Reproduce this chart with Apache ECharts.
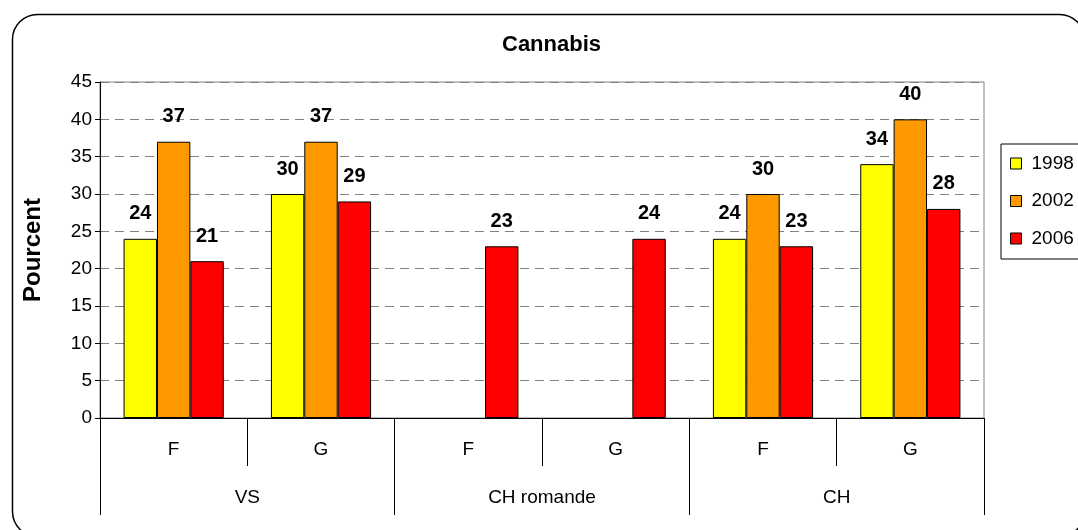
<!DOCTYPE html>
<html>
<head>
<meta charset="utf-8">
<script src="https://cdn.jsdelivr.net/npm/echarts@6/dist/echarts.min.js"></script>
<style>
html,body{margin:0;padding:0;background:#fff;}
#chart{width:1078px;height:530px;}
</style>
</head>
<body>
<div id="chart"></div>
<script>
const subCategories = ['F', 'G', 'F', 'G', 'F', 'G'];
const groupCategories = ['VS', 'CH romande', 'CH'];
const seriesNames = ['1998', '2002', '2006'];
const values1998 = [24, 30, null, null, 24, 34];
const values2002 = [37, 37, null, null, 30, 40];
const values2006 = [21, 29, 23, 24, 23, 28];
const colors = ['#FFFF00', '#FF9900', '#FF0000'];
const yTicks = { min: 0, max: 45, interval: 5 };

const FONT = "'Liberation Sans', Arial, sans-serif";
const chart = echarts.init(document.getElementById('chart'), null, { renderer: 'canvas' });

const allValues = [values1998, values2002, values2006];
const series = seriesNames.map((name, i) => ({
  name: name,
  type: 'bar',
  data: allValues[i],
  barGap: 0,
  barCategoryGap: '32%',
  itemStyle: { color: colors[i], borderColor: '#000', borderWidth: 1 },
  label: {
    show: true,
    position: 'top',
    distance: 15,
    color: '#000',
    fontWeight: 'bold',
    fontSize: 20,
    fontFamily: FONT
  }
}));

chart.setOption({
  animation: false,
  textStyle: { fontFamily: FONT },
  title: {
    text: 'Cannabis',
    left: 497,
    top: 29,
    textStyle: { fontSize: 22, fontWeight: 'bold', color: '#000', fontFamily: FONT }
  },
  legend: {
    orient: 'vertical',
    left: 1001,
    top: 144,
    data: seriesNames,
    icon: 'rect',
    itemWidth: 11,
    itemHeight: 11,
    itemGap: 18.5,
    borderColor: '#000',
    borderWidth: 1,
    padding: [10, 20, 11, 9],
    itemStyle: { borderColor: '#000', borderWidth: 1 },
    textStyle: { fontSize: 19, color: '#000', fontFamily: FONT, padding: [0, 0, 0, 5] }
  },
  graphic: [{
    type: 'rect',
    left: 10,
    top: 12,
    shape: { width: 1072, height: 522, r: 25 },
    style: { fill: 'none', stroke: '#000', lineWidth: 1.5 },
    silent: true
  }],
  grid: {
    left: 100, right: 94, top: 82, bottom: 112,
    show: true, borderColor: '#808080', borderWidth: 1
  },
  xAxis: [{
    type: 'category',
    data: subCategories,
    position: 'bottom',
    axisLine: { show: true, lineStyle: { color: '#000', width: 1 } },
    axisTick: { show: true, interval: 0, length: 48, lineStyle: { color: '#000' } },
    axisLabel: { interval: 0, margin: 22, fontSize: 19, color: '#000', fontFamily: FONT }
  }, {
    type: 'category',
    data: groupCategories,
    position: 'bottom',
    offset: 48,
    axisLine: { show: false },
    axisTick: { show: true, interval: 0, length: 49, lineStyle: { color: '#000' } },
    axisLabel: { interval: 0, margin: 22, fontSize: 19, color: '#000', fontFamily: FONT }
  }],
  yAxis: {
    type: 'value',
    min: yTicks.min,
    max: yTicks.max,
    interval: yTicks.interval,
    name: 'Pourcent',
    nameLocation: 'middle',
    nameGap: 55,
    nameTextStyle: { fontSize: 24, fontWeight: 'bold', color: '#000', fontFamily: FONT },
    axisLine: { show: true, lineStyle: { color: '#000', width: 1 } },
    axisTick: { show: true, length: 5, lineStyle: { color: '#000' } },
    axisLabel: { margin: 8, fontSize: 19, color: '#000', fontFamily: FONT },
    splitLine: { show: true, lineStyle: { color: '#808080', type: [9, 6], width: 1 } }
  },
  series: series
});
</script>
</body>
</html>
